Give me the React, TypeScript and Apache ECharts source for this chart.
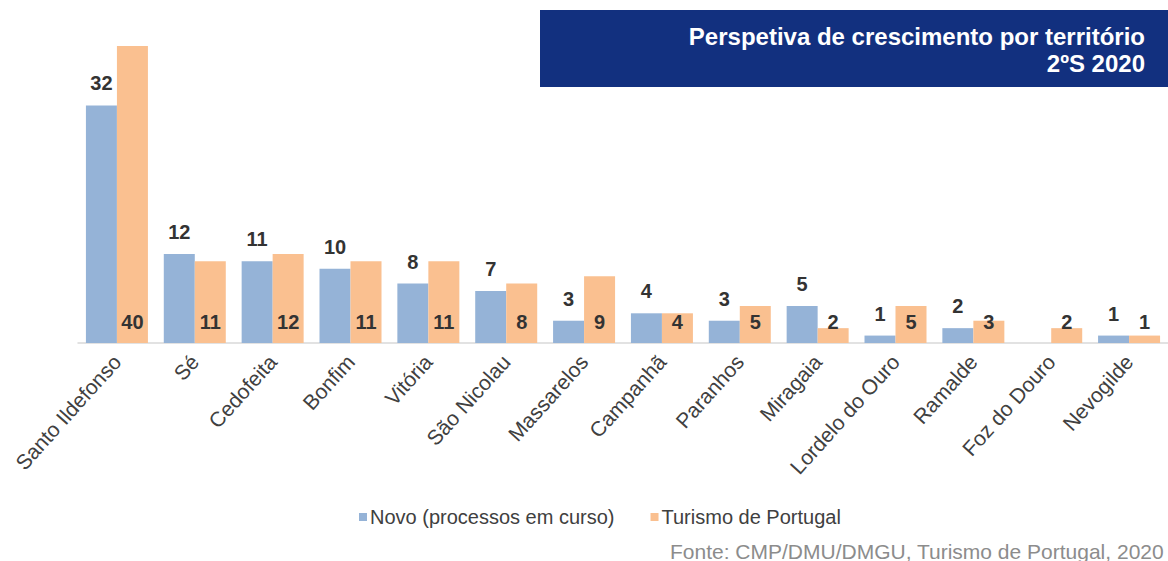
import React, { useEffect, useRef } from "react";
import * as echarts from "echarts";

const categories = [
  "Santo Ildefonso", "Sé", "Cedofeita", "Bonfim", "Vitória", "São Nicolau",
  "Massarelos", "Campanhã", "Paranhos", "Miragaia", "Lordelo do Ouro",
  "Ramalde", "Foz do Douro", "Nevogilde",
];
const novoValues = [32, 12, 11, 10, 8, 7, 3, 4, 3, 5, 1, 2, null, 1];
const turismoValues = [40, 11, 12, 11, 11, 8, 9, 4, 5, 2, 5, 3, 2, 1];
const seriesNames = ["Novo (processos em curso)", "Turismo de Portugal"];
const titleLines = ["Perspetiva de crescimento por território", "2ºS 2020"];
const sourceText = "Fonte: CMP/DMU/DMGU, Turismo de Portugal, 2020";

export default function App() {
  const ref = useRef<HTMLDivElement>(null);
  useEffect(() => {
    if (!ref.current) return;
    const chart = echarts.init(ref.current, null, { renderer: "svg" });
    const font = "'Liberation Sans', Arial, sans-serif";
    chart.setOption({
      animation: false,
      textStyle: { fontFamily: font },
      grid: { left: 78, right: -8, top: 46, bottom: 218, containLabel: false },
      xAxis: {
        type: "category",
        data: categories,
        axisLine: { show: true, lineStyle: { color: "#d9d9d9", width: 1.5 } },
        axisTick: { show: false },
        axisLabel: {
          rotate: 48,
          interval: 0,
          fontSize: 21,
          color: "#404040",
          margin: 15,
          fontFamily: font,
        },
      },
      yAxis: { type: "value", min: 0, max: 40, show: false, splitLine: { show: false } },
      legend: {
        bottom: 29,
        left: 354,
        itemWidth: 8,
        itemHeight: 8,
        itemGap: 36,
        icon: "rect",
        textStyle: { fontSize: 20, color: "#404040", fontFamily: font, padding: [0, 0, 0, -2] },
        data: seriesNames,
      },
      graphic: [
        {
          type: "rect",
          shape: { x: 540, y: 10, width: 640, height: 77 },
          style: { fill: "#12307f" },
        },
        {
          type: "text",
          x: 1145,
          y: 36,
          style: {
            text: titleLines[0],
            fill: "#ffffff",
            font: `bold 24px ${font}`,
            textAlign: "right",
            textVerticalAlign: "middle",
          },
        },
        {
          type: "text",
          x: 1145,
          y: 63,
          style: {
            text: titleLines[1],
            fill: "#ffffff",
            font: `bold 24px ${font}`,
            textAlign: "right",
            textVerticalAlign: "middle",
          },
        },
        {
          type: "text",
          x: 670,
          y: 551,
          style: {
            text: sourceText,
            fill: "#8c8c8c",
            font: `21px ${font}`,
            textAlign: "left",
            textVerticalAlign: "middle",
          },
        },
      ],
      series: [
        {
          name: seriesNames[0],
          type: "bar",
          data: novoValues,
          barWidth: 31,
          barGap: "0%",
          itemStyle: { color: "#95b3d7" },
          label: {
            show: true,
            position: "top",
            distance: 12,
            fontSize: 20,
            fontWeight: "bold",
            color: "#333333",
            fontFamily: font,
          },
        },
        {
          name: seriesNames[1],
          type: "bar",
          data: turismoValues,
          barWidth: 31,
          barGap: "0%",
          itemStyle: { color: "#fac090" },
          label: {
            show: true,
            position: "insideBottom",
            distance: 11,
            fontSize: 20,
            fontWeight: "bold",
            color: "#333333",
            fontFamily: font,
          },
        },
      ],
    });
    return () => chart.dispose();
  }, []);
  return <div ref={ref} style={{ width: 1168, height: 561, position: "absolute", left: 0, top: 0 }} />;
}
